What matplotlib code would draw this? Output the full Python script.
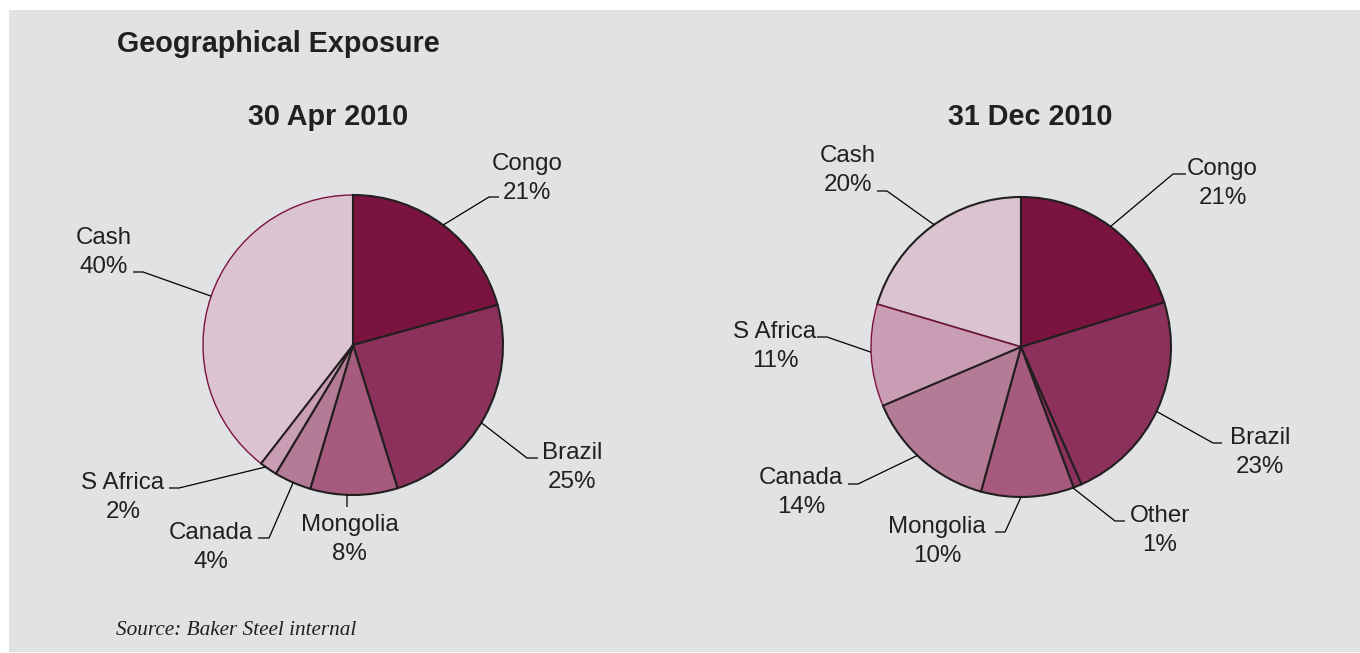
import matplotlib
matplotlib.use("Agg")
import matplotlib.pyplot as plt
import numpy as np

# ---------------- data ----------------
title_main = "Geographical Exposure"
source_text = "Source: Baker Steel internal"

apr_title = "30 Apr 2010"
apr_categories = ["Congo", "Brazil", "Mongolia", "Canada", "S Africa", "Cash"]
apr_values = [20.7, 24.5, 9.4, 4.0, 1.9, 39.5]
apr_labels = ["21%", "25%", "8%", "4%", "2%", "40%"]

dec_title = "31 Dec 2010"
dec_categories = ["Congo", "Brazil", "Other", "Mongolia", "Canada", "S Africa", "Cash"]
dec_values = [20.2, 23.2, 0.9, 10.0, 14.3, 11.0, 20.4]
dec_labels = ["21%", "23%", "1%", "10%", "14%", "11%", "20%"]

# ---------------- style ----------------
W, H = 1360, 653
BG = "#e1e2e4"
EDGE = "#231f20"
MAROON = "#7b1340"
cat_colors = {
    "Congo": "#7b1340",
    "Brazil": "#8b315b",
    "Other": "#8b315b",
    "Mongolia": "#a55a7e",
    "Canada": "#b47b97",
    "S Africa": "#c99db3",
    "Cash": "#dcc3d0",
}
FONT = ["Liberation Sans", "DejaVu Sans"]
plt.rcParams["font.family"] = FONT

fig = plt.figure(figsize=(W / 100, H / 100), dpi=100)
fig.patch.set_facecolor("white")
ax = fig.add_axes([0, 0, 1, 1])


def Y(y):
    return H - y


# gray panel
ax.add_patch(plt.Rectangle((9, Y(652)), W - 9, 652 - 10, facecolor=BG,
                           edgecolor="none", zorder=0))

# layout for labels: anchor angle on rim, elbow, end of leader, text centre x, baseline of first line
apr_layout = {
    "Congo":    (53.1,   (489, 197), (499, 197), 527, 170),
    "Brazil":   (-31.2,  (527, 458), (538, 458), 572, 459),
    "Mongolia": (-92.3,  (347, 507), (347, 507), 349.5, 531),
    "Canada":   (-113.5, (269, 538), (258, 538), 210.5, 539),
    "S Africa": (-125.6, (179, 488), (169, 488), 123, 489),
    "Cash":     (161.0,  (143, 272), (133, 272), 104, 244),
}
dec_layout = {
    "Congo":    (53.4,   (1173, 174), (1186, 174), 1222.5, 175),
    "Brazil":   (-25.4,  (1213, 443), (1222, 443), 1260, 444),
    "Other":    (-69.8,  (1115, 521), (1125, 521), 1160, 522),
    "Mongolia": (-90.0,  (1005, 532), (995, 532), 937, 533),
    "Canada":   (-133.7, (858, 484), (848, 484), 801, 484),
    "S Africa": (-178.0, (827, 337), (817, 337), 775, 338),
    "Cash":     (125.4,  (887, 191), (877, 191), 848, 162),
}


def draw_pie(center_px, radius, categories, values, labels, layout, maroon_cat):
    cx, cy = center_px[0], Y(center_px[1])
    wedges, _ = ax.pie(values, colors=[cat_colors[c] for c in categories],
                       startangle=90, counterclock=False, center=(cx, cy),
                       radius=radius,
                       wedgeprops=dict(edgecolor=EDGE, linewidth=1.5))
    for w, c in zip(wedges, categories):
        if c == maroon_cat:
            w.set_edgecolor(MAROON)
            w.set_linewidth(1.0)
            w.set_zorder(2)
        elif c == "Cash":
            w.set_zorder(1)
        else:
            w.set_zorder(3)
    for c, lab in zip(categories, labels):
        ang, elbow, end, tx, ty = layout[c]
        a = np.deg2rad(ang)
        sx, sy = cx + radius * np.cos(a), cy + radius * np.sin(a)
        ax.plot([sx, elbow[0], end[0]], [sy, Y(elbow[1]), Y(end[1])],
                color="black", lw=0.9, zorder=4, solid_capstyle="butt")
        ax.text(tx, Y(ty), c, ha="center", va="baseline", fontsize=17.4,
                color="#231f20", zorder=5)
        ax.text(tx, Y(ty + 29), lab, ha="center", va="baseline", fontsize=17.4,
                color="#231f20", zorder=5)


draw_pie((353, 345), 150, apr_categories, apr_values, apr_labels, apr_layout, "Cash")
draw_pie((1021, 347), 150, dec_categories, dec_values, dec_labels, dec_layout, "S Africa")

ax.text(117, Y(52), title_main, ha="left", va="baseline", fontsize=20.7,
        fontweight="bold", color="#231f20")
ax.text(328, Y(125), apr_title, ha="center", va="baseline", fontsize=20.7,
        fontweight="bold", color="#231f20")
ax.text(1030, Y(125), dec_title, ha="center", va="baseline", fontsize=20.7,
        fontweight="bold", color="#231f20")
ax.text(116, Y(635), source_text, ha="left", va="baseline", fontsize=15.3,
        fontstyle="italic", family=["Liberation Serif", "DejaVu Serif"],
        color="#231f20")

ax.set_xlim(0, W)
ax.set_ylim(0, H)
ax.set_aspect("auto")
ax.axis("off")

fig.savefig("out.png", dpi=100, facecolor=fig.get_facecolor())
